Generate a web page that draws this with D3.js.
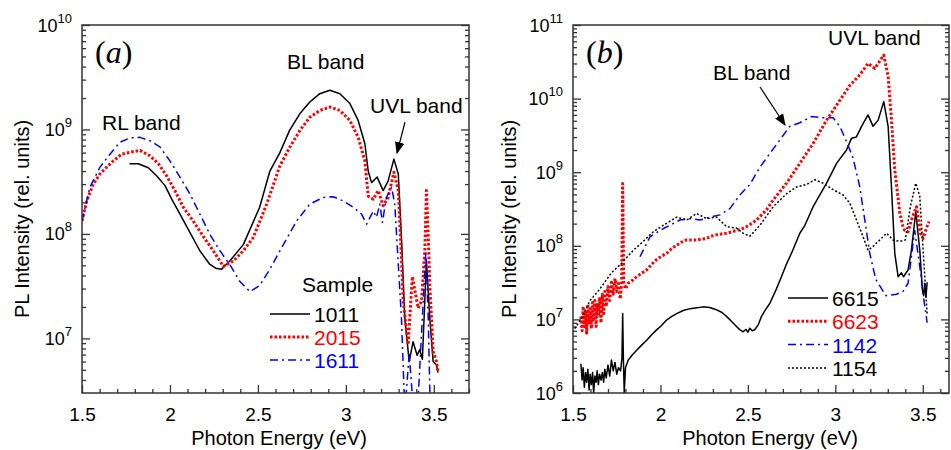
<!DOCTYPE html>
<html><head><meta charset="utf-8">
<script src="https://cdn.jsdelivr.net/npm/d3@7"></script>
<style>
body{margin:0;background:#fff;}
svg text{font-family:"Liberation Sans",Arial,sans-serif;fill:#000;}
</style></head><body>
<svg id="chart" width="951" height="450"></svg>
<script>
// PL spectra, two panels. values: [photon energy eV, PL intensity]

const X_MAJOR = [1.5, 2, 2.5, 3, 3.5];

// ---- panel (a)
const a1011 = [[1.77,4.7e8],[1.82,4.7e8],[1.877,4.3e8],[1.924,3.6e8],[1.972,2.9e8],[2.01,2.15e8],[2.057,1.55e8],[2.114,1.03e8],[2.17,6.9e7],[2.227,5.1e7],[2.26,4.7e7],[2.294,4.6e7],[2.34,5.5e7],[2.417,7.9e7],[2.51,1.8e8],[2.568,4.0e8],[2.625,6.0e8],[2.68,9.8e8],[2.739,1.42e9],[2.795,1.83e9],[2.852,2.2e9],[2.909,2.37e9],[2.966,2.2e9],[3.023,1.77e9],[3.07,1.22e9],[3.108,7.3e8],[3.127,4.0e8],[3.146,3.1e8],[3.178,3.5e8],[3.212,2.6e8],[3.24,3.2e8],[3.273,5.2e8],[3.298,3.75e8],[3.316,9.2e7],[3.335,1.57e7],[3.36,6.0e6],[3.382,9.3e6],[3.405,6.9e6],[3.42,7.8e6],[3.435,6.3e6],[3.458,5.5e7],[3.477,1.57e7],[3.496,6.0e6],[3.515,5.6e6],[3.524,4.7e6]];
const a2015 = [[1.5,1.33e8],[1.527,2.07e8],[1.564,3.0e8],[1.602,3.75e8],[1.64,4.35e8],[1.678,5.0e8],[1.725,5.8e8],[1.773,6.05e8],[1.83,6.3e8],[1.886,5.6e8],[1.934,4.7e8],[1.981,3.6e8],[2.028,2.6e8],[2.076,1.8e8],[2.132,1.33e8],[2.189,9.5e7],[2.246,6.9e7],[2.303,4.9e7],[2.36,5.5e7],[2.417,6.9e7],[2.473,9.2e7],[2.55,1.93e8],[2.625,4.5e8],[2.682,6.8e8],[2.739,9.8e8],[2.795,1.31e9],[2.852,1.52e9],[2.909,1.64e9],[2.966,1.52e9],[3.023,1.22e9],[3.07,8.4e8],[3.108,5.0e8],[3.127,2.3e8],[3.156,2.15e8],[3.184,2.6e8],[3.212,1.86e8],[3.24,2.23e8],[3.273,3.9e8],[3.298,2.6e8],[3.316,5.9e7],[3.326,2.27e7],[3.354,8.7e6],[3.378,3.9e7],[3.411,1.95e7],[3.43,2.27e7],[3.449,6.9e7],[3.458,2.6e8],[3.468,1.0e8],[3.477,3.3e7],[3.496,7.5e6],[3.515,6.0e6],[3.524,4.8e6]];
const a1611 = [[1.5,1.32e8],[1.545,2.8e8],[1.602,4.35e8],[1.659,5.8e8],[1.716,7.55e8],[1.773,8.3e8],[1.83,8.4e8],[1.886,7.8e8],[1.943,6.8e8],[2.0,5.0e8],[2.057,3.5e8],[2.114,2.4e8],[2.17,1.55e8],[2.227,9.9e7],[2.284,6.9e7],[2.34,5.1e7],[2.398,3.5e7],[2.455,2.8e7],[2.51,3.2e7],[2.568,4.6e7],[2.635,7.4e7],[2.72,1.33e8],[2.795,1.93e8],[2.871,2.23e8],[2.928,2.27e8],[2.985,2.07e8],[3.042,1.8e8],[3.089,1.55e8],[3.118,1.24e8],[3.156,1.66e8],[3.174,1.44e8],[3.193,1.93e8],[3.208,1.29e8],[3.23,2.23e8],[3.26,2.8e8],[3.278,1.93e8],[3.297,5.5e7],[3.316,1.57e7],[3.335,2.0e6],[3.36,7.0e6],[3.385,2.0e6],[3.41,2.5e6],[3.435,1.6e7],[3.455,6.9e7],[3.468,1.6e7],[3.48,2.0e6]];

// ---- panel (b)
const b6615 = [[1.545,2.5e6],[1.552,1.5e6],[1.558,2.2e6],[1.565,1.2e6],[1.572,1.9e6],[1.578,1.4e6],[1.585,2.1e6],[1.592,1.1e6],[1.598,1.8e6],[1.605,1.3e6],[1.612,1.9e6],[1.618,1.0e6],[1.625,1.7e6],[1.632,1.4e6],[1.638,2.0e6],[1.645,1.3e6],[1.652,1.8e6],[1.66,1.5e6],[1.668,1.9e6],[1.675,1.4e6],[1.682,2.1e6],[1.69,1.6e6],[1.70,2.4e6],[1.71,1.7e6],[1.72,2.8e6],[1.73,2.0e6],[1.74,2.6e6],[1.75,1.8e6],[1.76,2.2e6],[1.772,2.0e6],[1.78,3.0e6],[1.784,1.2e7],[1.788,3.0e6],[1.793,1.0e6],[1.80,2.2e6],[1.816,2.8e6],[1.84,3.3e6],[1.864,3.8e6],[1.89,4.4e6],[1.921,5.2e6],[1.95,6.2e6],[1.978,7.2e6],[2.005,8.2e6],[2.035,9.8e6],[2.065,1.1e7],[2.093,1.2e7],[2.13,1.32e7],[2.169,1.4e7],[2.2,1.43e7],[2.245,1.48e7],[2.28,1.45e7],[2.321,1.35e7],[2.35,1.25e7],[2.378,1.1e7],[2.41,9.2e6],[2.435,8.0e6],[2.455,7.2e6],[2.473,6.8e6],[2.49,7.3e6],[2.50,6.7e6],[2.511,7.6e6],[2.525,7.0e6],[2.54,7.3e6],[2.56,8.5e6],[2.578,1.1e7],[2.6,1.35e7],[2.626,1.66e7],[2.66,2.5e7],[2.692,3.8e7],[2.72,5.6e7],[2.75,8.0e7],[2.797,1.48e8],[2.826,1.9e8],[2.873,3.4e8],[2.95,7.1e8],[3.007,1.32e9],[3.064,2.0e9],[3.093,2.9e9],[3.12,3.0e9],[3.15,4.2e9],[3.187,6.0e9],[3.216,4.2e9],[3.245,5.1e9],[3.277,9.1e9],[3.302,4.2e9],[3.321,6.3e8],[3.34,7.9e7],[3.359,3.8e7],[3.378,4.3e7],[3.39,3.8e7],[3.416,4.7e7],[3.435,8.7e7],[3.46,2.9e8],[3.483,8.7e7],[3.498,2.5e7],[3.505,2.1e7],[3.511,3.1e7],[3.518,2.0e7],[3.525,3.2e7]];
const b6623 = [[1.545,1.1e7],[1.552,7e6],[1.558,1.5e7],[1.565,8e6],[1.572,1.3e7],[1.578,6.5e6],[1.585,1.6e7],[1.592,9e6],[1.598,1.4e7],[1.605,7.5e6],[1.612,1.7e7],[1.618,1.0e7],[1.625,1.8e7],[1.632,8e6],[1.638,1.6e7],[1.645,1.1e7],[1.652,2.0e7],[1.66,9e6],[1.668,2.2e7],[1.675,1.2e7],[1.682,2.4e7],[1.69,1.5e7],[1.70,2.8e7],[1.71,1.8e7],[1.72,3.2e7],[1.73,2.2e7],[1.74,3.6e7],[1.75,2.4e7],[1.76,3.3e7],[1.77,1.9e7],[1.778,3.0e7],[1.784,7e8],[1.79,3.2e7],[1.80,2.6e7],[1.816,3.1e7],[1.84,3.4e7],[1.864,3.8e7],[1.89,4.2e7],[1.921,4.7e7],[1.95,5.6e7],[1.978,6.5e7],[2.005,7.2e7],[2.035,7.9e7],[2.065,9.2e7],[2.093,1.02e8],[2.12,1.12e8],[2.15,1.2e8],[2.18,1.2e8],[2.207,1.2e8],[2.235,1.23e8],[2.264,1.26e8],[2.29,1.35e8],[2.321,1.41e8],[2.35,1.45e8],[2.378,1.48e8],[2.41,1.55e8],[2.435,1.62e8],[2.465,1.7e8],[2.492,1.82e8],[2.52,2.0e8],[2.55,2.24e8],[2.569,2.5e8],[2.607,3.1e8],[2.645,4.2e8],[2.721,7.1e8],[2.797,1.32e9],[2.873,2.45e9],[2.95,5.1e9],[3.026,9.5e9],[3.083,1.51e10],[3.14,2.1e10],[3.187,3.0e10],[3.226,2.57e10],[3.277,3.9e10],[3.302,2.0e10],[3.321,5.1e9],[3.34,1.07e9],[3.369,2.75e8],[3.387,1.82e8],[3.397,1.62e8],[3.416,1.55e8],[3.435,2.24e8],[3.464,3.4e8],[3.487,1.48e8],[3.502,1.26e8],[3.521,1.74e8],[3.536,2.14e8]];
const b1142 = [[1.883,7.1e7],[1.94,1.32e8],[1.997,1.62e8],[2.054,1.9e8],[2.111,2.24e8],[2.169,2.34e8],[2.226,2.24e8],[2.283,2.45e8],[2.34,2.63e8],[2.397,3.2e8],[2.454,4.9e8],[2.511,6.8e8],[2.569,1.17e9],[2.626,1.8e9],[2.683,2.75e9],[2.74,4.2e9],[2.797,4.7e9],[2.864,5.7e9],[2.93,5.5e9],[2.987,5.5e9],[3.026,4.2e9],[3.064,2.6e9],[3.1,1.6e9],[3.14,6.3e8],[3.169,2.2e8],[3.197,7.9e7],[3.231,3.5e7],[3.29,2.1e7],[3.35,2.2e7],[3.387,2.4e7],[3.416,3.1e7],[3.454,1.62e8],[3.483,5.2e7],[3.502,2.2e7],[3.525,9e6]];
const b1154 = [[1.51,7.5e6],[1.55,1.05e7],[1.597,1.8e7],[1.654,2.6e7],[1.72,4.3e7],[1.778,5.8e7],[1.845,8.7e7],[1.902,1.15e8],[1.959,1.55e8],[2.016,1.9e8],[2.093,2.45e8],[2.15,2.24e8],[2.207,2.75e8],[2.264,2.34e8],[2.321,2.45e8],[2.378,1.82e8],[2.435,1.74e8],[2.473,1.48e8],[2.511,1.35e8],[2.569,1.9e8],[2.645,3.4e8],[2.721,5.1e8],[2.778,6.3e8],[2.835,6.8e8],[2.883,7.9e8],[2.93,7.1e8],[2.987,5.8e8],[3.044,4.9e8],[3.083,3.8e8],[3.121,2.24e8],[3.159,1.32e8],[3.187,8.7e7],[3.216,9.8e7],[3.254,1.2e8],[3.293,1.48e8],[3.33,1.2e8],[3.369,1.15e8],[3.40,1.2e8],[3.43,3.5e8],[3.46,7.1e8],[3.483,4.7e8],[3.502,8.7e7],[3.525,1.2e7]];

// line looks per sample
const STY = {
  solid:  { color:"#000",    width:1.5, dash:null },
  red:    { color:"#ff0000", width:3,   dash:"2.5,2" },
  dashdot:{ color:"#0000ff", width:1.5, dash:"8,4,2,4" },
  dotted: { color:"#000",    width:1.5, dash:"2,2" },
};

const svg = d3.select("#chart");

svg.append("defs").append("marker")
  .attr("id","arrow").attr("viewBox","0 0 10 10").attr("refX",9).attr("refY",5)
  .attr("markerWidth",12).attr("markerHeight",12).attr("markerUnits","userSpaceOnUse")
  .attr("orient","auto")
  .append("path").attr("d","M0,1 L10,5 L0,9 Z").attr("fill","#000");

function drawPanel(o) {
  const W = o.width, H = o.height;
  const g = svg.append("g").attr("transform",`translate(${o.left},${o.top})`);

  const x = d3.scaleLinear().domain(o.xDomain).range([0,W]);
  const y = d3.scaleLog().domain(o.yDomain).range([H,0]);

  const lo = Math.floor(Math.log10(o.yDomain[0])), hi = Math.ceil(Math.log10(o.yDomain[1]));
  const yMajor = d3.range(lo, hi+1).map(e=>Math.pow(10,e)).filter(v=>v>=o.yDomain[0]*0.999 && v<=o.yDomain[1]*1.001);
  const yMinor = [];
  d3.range(lo, hi).forEach(e=>{ for(let m=2;m<10;m++){ const v=m*Math.pow(10,e); if(v>o.yDomain[0] && v<o.yDomain[1]) yMinor.push(v); } });
  const xMinor = d3.range(Math.round(o.xDomain[0]*10), Math.round(o.xDomain[1]*10)+1).map(d=>d/10)
    .filter(v=>!X_MAJOR.some(m=>Math.abs(m-v)<1e-6));

  const clean = sel => sel.call(a=>a.select(".domain").remove())
    .call(a=>a.selectAll("line").attr("stroke","#333").attr("stroke-width",1.3));

  // inward ticks on left, right, bottom; top edge bare
  g.append("g").call(d3.axisLeft(y).tickValues(yMinor).tickSize(-4).tickFormat("")).call(clean);
  g.append("g").attr("transform",`translate(${W},0)`).call(d3.axisRight(y).tickValues(yMinor).tickSize(-4).tickFormat("")).call(clean);
  g.append("g").attr("transform",`translate(${W},0)`).call(d3.axisRight(y).tickValues(yMajor).tickSize(-8).tickFormat("")).call(clean);
  g.append("g").call(d3.axisLeft(y).tickValues(yMajor).tickSize(-8).tickFormat("")).call(clean);

  g.append("g").attr("transform",`translate(0,${H})`)
    .call(d3.axisBottom(x).tickValues(xMinor).tickSize(-4).tickFormat("")).call(clean);
  g.append("g").attr("transform",`translate(0,${H})`)
    .call(d3.axisBottom(x).tickValues(X_MAJOR).tickSize(-8).tickPadding(15).tickFormat(d3.format("")))
    .call(clean)
    .call(a=>a.selectAll("text").attr("fill","#000").style("font-size","19px").style("font-family","'Liberation Sans', Arial, sans-serif"));

  // 10^n labels
  yMajor.forEach(v=>{
    const t = g.append("text").attr("x",-10).attr("y",y(v)+6.5).attr("text-anchor","end").style("font-size","18px");
    t.append("tspan").text("10");
    t.append("tspan").attr("dy",-9).style("font-size","13px").text(Math.round(Math.log10(v)));
  });

  // curves
  g.append("clipPath").attr("id","clip"+o.id).append("rect").attr("width",W).attr("height",H);
  const line = d3.line().x(d=>x(d[0])).y(d=>y(d[1]));
  const cg = g.append("g").attr("clip-path",`url(#clip${o.id})`);
  o.series.forEach(s=>{
    const st = STY[s.style];
    cg.append("path").datum(s.data).attr("d",line)
      .attr("fill","none").attr("stroke",st.color).attr("stroke-width",st.width)
      .attr("stroke-dasharray",st.dash).attr("stroke-linejoin","round");
  });

  // frame
  g.append("rect").attr("width",W).attr("height",H).attr("fill","none").attr("stroke","#333").attr("stroke-width",1.5);

  // axis titles
  g.append("text").attr("x",197).attr("y",H+52).attr("text-anchor","middle").style("font-size","20px").text("Photon Energy (eV)");
  g.append("text").attr("transform",`translate(${o.yTitleX},${H/2+10}) rotate(-90)`)
    .attr("text-anchor","middle").style("font-size","20px").text("PL Intensity (rel. units)");

  // panel letter
  const pl = g.append("text").attr("x",13).attr("y",38).style("font-family","'Liberation Serif', 'Times New Roman', serif").style("font-size","32px");
  pl.append("tspan").text("(");
  pl.append("tspan").style("font-style","italic").style("font-family","'Liberation Serif', serif").text(o.letter);
  pl.append("tspan").text(")");

  o.notes.forEach(n=>{
    g.append("text").attr("x",n.x).attr("y",n.y).style("font-size","21px").text(n.text);
  });
  g.append("line").attr("x1",o.arrow[0]).attr("y1",o.arrow[1]).attr("x2",o.arrow[2]).attr("y2",o.arrow[3])
    .attr("stroke","#000").attr("stroke-width",1.2).attr("marker-end","url(#arrow)");

  // legend
  o.series.forEach((s,i)=>{
    const st = STY[s.style];
    const ly = o.legend.y0 + i*o.legend.step;
    g.append("line").attr("x1",o.legend.x).attr("x2",o.legend.x+40).attr("y1",ly).attr("y2",ly)
      .attr("stroke",st.color).attr("stroke-width",st.width).attr("stroke-dasharray",st.dash);
    g.append("text").attr("x",o.legend.x+44).attr("y",ly+8).style("font-size","21px")
      .style("fill",st.color).text(s.name);
  });
  if (o.legend.title) g.append("text").attr("x",o.legend.title[0]).attr("y",o.legend.title[1]).style("font-size","21px").text("Sample");
}

drawPanel({
  id:"a", letter:"a", left:82, top:25, width:387, height:368,
  xDomain:[1.5,3.7], yDomain:[3e6,1e10], yTitleX:-53,
  series:[
    {name:"1011", data:a1011, style:"solid"},
    {name:"2015", data:a2015, style:"red"},
    {name:"1611", data:a1611, style:"dashdot"},
  ],
  notes:[{text:"RL band",x:20,y:105},{text:"BL band",x:205,y:44},{text:"UVL band",x:288,y:88}],
  arrow:[323,97,315,128],
  legend:{x:188, y0:289, step:23, title:[220,267]},
});

drawPanel({
  id:"b", letter:"b", left:573, top:25, width:376, height:368,
  xDomain:[1.5,3.65], yDomain:[1e6,1e11], yTitleX:-57,
  series:[
    {name:"6615", data:b6615, style:"solid"},
    {name:"6623", data:b6623, style:"red"},
    {name:"1142", data:b1142, style:"dashdot"},
    {name:"1154", data:b1154, style:"dotted"},
  ],
  notes:[{text:"UVL band",x:255,y:20},{text:"BL band",x:140,y:55}],
  arrow:[187,62,212,100],
  legend:{x:215, y0:273, step:23.3},
});
</script>
</body></html>
